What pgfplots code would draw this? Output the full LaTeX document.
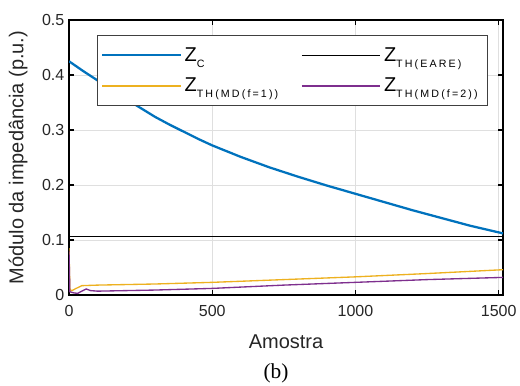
\documentclass[border=0pt]{standalone}
\usepackage{fontspec}
\setmainfont{Liberation Sans}
\newfontfamily\seriffont{Liberation Serif}
\usepackage{pgfplots}
\pgfplotsset{compat=1.18}
\definecolor{mblue}{rgb}{0,0.447,0.741}
\definecolor{myellow}{rgb}{0.929,0.694,0.125}
\definecolor{mpurple}{rgb}{0.494,0.184,0.556}
\definecolor{tickgray}{HTML}{262626}
\newcommand\sub[1]{\raisebox{-4.5pt}{\fontsize{8}{8}\selectfont\addfontfeature{LetterSpace=20}#1}}
\begin{document}
\begin{tikzpicture}
\useasboundingbox (-51.75pt,-67.5pt) rectangle (338.25pt,221.25pt);
\begin{axis}[
  scale only axis,
  width=325.5pt, height=206.25pt,
  xmin=0, xmax=1515, ymin=0, ymax=0.5,
  xtick={0,500,1000,1500},
  xticklabels={0,500,1000,1500},
  ytick={0,0.1,0.2,0.3,0.4,0.5},
  yticklabels={0,0.1,0.2,0.3,0.4,0.5},
  /pgf/number format/assume math mode=true,
  tick label style={font=\fontsize{12}{12}\selectfont, text=tickgray},
  xticklabel style={yshift=-4pt},
  tick align=inside,
  major tick length=4pt,
  tick style={black, line width=0.8pt},
  axis line style={black, line width=1.1pt},
  grid=major,
  major grid style={gray!25, line width=0.6pt},
  xlabel={Amostra},
  ylabel={Módulo da impedância (p.u.)},
  label style={font=\fontsize{15}{15}\selectfont, text=tickgray},
  xlabel style={at={(axis description cs:0.5,-0.17)}, anchor=center},
  ylabel style={at={(axis description cs:-0.1175,0.5)}, anchor=center, rotate=0},
  legend columns=2,
  legend cell align=left,
  legend style={at={(axis description cs:0.0645,0.945)}, anchor=north west,
    draw=black!75, line width=0.6pt, fill=white,
    font=\fontsize{15}{15}\selectfont,
    inner xsep=3pt, inner ysep=7pt,
    row sep=7pt,
    /tikz/every even column/.append style={column sep=15pt}},
]
\addplot[color=mblue, line width=1.7pt,
  legend image code/.code={\draw[mblue, line width=1.4pt] (0pt,0pt) -- (59pt,0pt);}] coordinates {
(0,0.425) (50,0.407) (100,0.390) (150,0.373) (200,0.356) (250,0.340) (300,0.324)
(350,0.310) (400,0.297) (450,0.284) (500,0.272) (600,0.251) (700,0.232)
(800,0.215) (900,0.199) (1000,0.184) (1100,0.169) (1200,0.154) (1300,0.140)
(1400,0.126) (1515,0.112)};
\addlegendentry{Z\sub{C}}
\addplot[color=black, line width=0.8pt,
  legend image code/.code={\draw[black, line width=1.2pt] (0pt,0pt) -- (59pt,0pt);}] coordinates {(0,0.1065) (1515,0.1065)};
\addlegendentry{Z\sub{TH(EARE)}}
\addplot[color=myellow, line width=1pt,
  legend image code/.code={\draw[myellow, line width=1.3pt] (0pt,0pt) -- (59pt,0pt);}] coordinates {
(0,0.085) (3,0.010) (10,0.008) (25,0.012) (45,0.017) (100,0.018) (300,0.020)
(500,0.023) (750,0.028) (1000,0.033) (1250,0.039) (1515,0.046)};
\addlegendentry{Z\sub{TH(MD(f=1))}}
\addplot[color=mpurple, line width=1pt,
  legend image code/.code={\draw[mpurple, line width=1.3pt] (0pt,0pt) -- (59pt,0pt);}] coordinates {
(0,0.080) (3,0.006) (15,0.004) (30,0.003) (45,0.007) (60,0.011) (75,0.008)
(100,0.007) (300,0.009) (500,0.012) (750,0.018) (1000,0.023) (1250,0.028) (1515,0.032)};
\addlegendentry{Z\sub{TH(MD(f=2))}\hspace*{2pt}}
\end{axis}
\node[font=\seriffont\fontsize{16}{16}\selectfont, anchor=center] at (155.25pt,-58.5pt) {(b)};
\end{tikzpicture}
\end{document}
